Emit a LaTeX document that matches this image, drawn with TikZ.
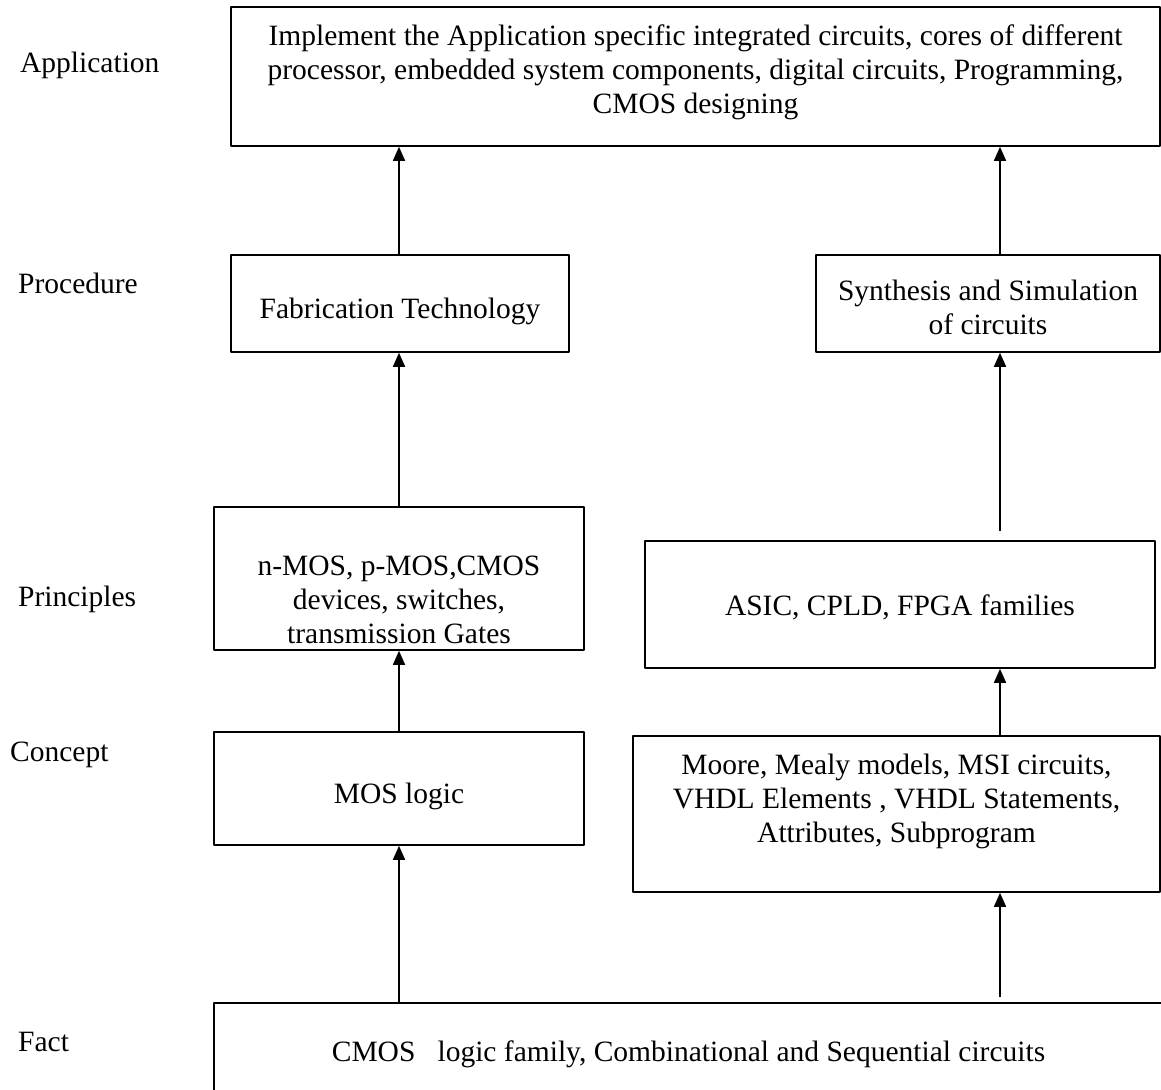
\documentclass[tikz,border=0pt]{standalone}
\usepackage{fontspec}
\setmainfont{Liberation Serif}
\usetikzlibrary{arrows.meta}
\begin{document}
\begin{tikzpicture}[x=1pt, y=-1pt, line join=round, >={Triangle[length=14pt,width=12pt]}]
	\tikzset{every node/.append style={font=\fontsize{29.5}{34}\selectfont},
		box/.style={draw, line width=1.6pt, inner sep=0pt},
		txt/.style={align=center, inner sep=0pt},
		link/.style={->, line width=1.6pt}}
	\def\L{399} \def\R{1000}
	\clip (0,0) rectangle (1161,1089);
	\path (\L,0) coordinate (L) (\R,0) coordinate (R)
	(\R,531) coordinate (G) (\R,997) coordinate (H);
	% levels
	\foreach \t/\x/\y [count=\i] in {Application/20/65, Procedure/18/283, Principles/18/599, Concept/10/755, Fact/18/1042}
	{\node[anchor=west, inner sep=0pt] (lev\i) at (\x,\y) {\t};}
	% boxes
	\node[box, minimum width=929, minimum height=139, label={[txt, yshift=4pt]center:{Implement the Application specific integrated circuits, cores of different\\ processor, embedded system components, digital circuits, Programming,\\ CMOS designing}}] (app) at (695.5,76.5) {};
	\node[box, minimum width=338, minimum height=97, label={[txt, yshift=-8pt]center:Fabrication Technology}] (fab) at (400,303.5) {};
	\node[box, minimum width=344, minimum height=97, label={[txt, yshift=-4pt]center:{Synthesis and Simulation\\ of circuits}}] (syn) at (988,303.5) {};
	\node[box, minimum width=370, minimum height=143, label={[txt, yshift=-21pt]center:{n-MOS, p-MOS,CMOS\\ devices, switches,\\ transmission Gates}}] (nmos) at (399,578.5) {};
	\node[box, minimum width=510, minimum height=127, label={[txt, yshift=-3pt]center:{ASIC, CPLD, FPGA families}}] (asic) at (900,604.5) {};
	\node[box, minimum width=370, minimum height=113, label={[txt, yshift=-8pt]center:MOS logic}] (mos) at (399,788.5) {};
	\node[box, minimum width=527, minimum height=156, label={[txt, yshift=13pt]center:{Moore, Mealy models, MSI circuits,\\ VHDL Elements , VHDL Statements,\\ Attributes, Subprogram}}] (moore) at (896.5,814) {};
	\node[box, minimum width=949, minimum height=90, label={[txt, yshift=-6pt]center:{CMOS\ \ \ logic family, Combinational and Sequential circuits}}] (fact) at (688.5,1048) {};
	% arrows
	\draw[link] (fab.north -| L) -- (app.south -| L);
	\draw[link] (syn.north -| R) -- (app.south -| R);
	\draw[link] (nmos.north -| L) -- (fab.south -| L);
	\draw[link] (G) -- (syn.south -| R);
	\draw[link] (mos.north -| L) -- (nmos.south -| L);
	\draw[link] (moore.north -| R) -- (asic.south -| R);
	\draw[link] (fact.north -| L) -- (mos.south -| L);
	\draw[link] (H) -- (moore.south -| R);
\end{tikzpicture}
\end{document}
